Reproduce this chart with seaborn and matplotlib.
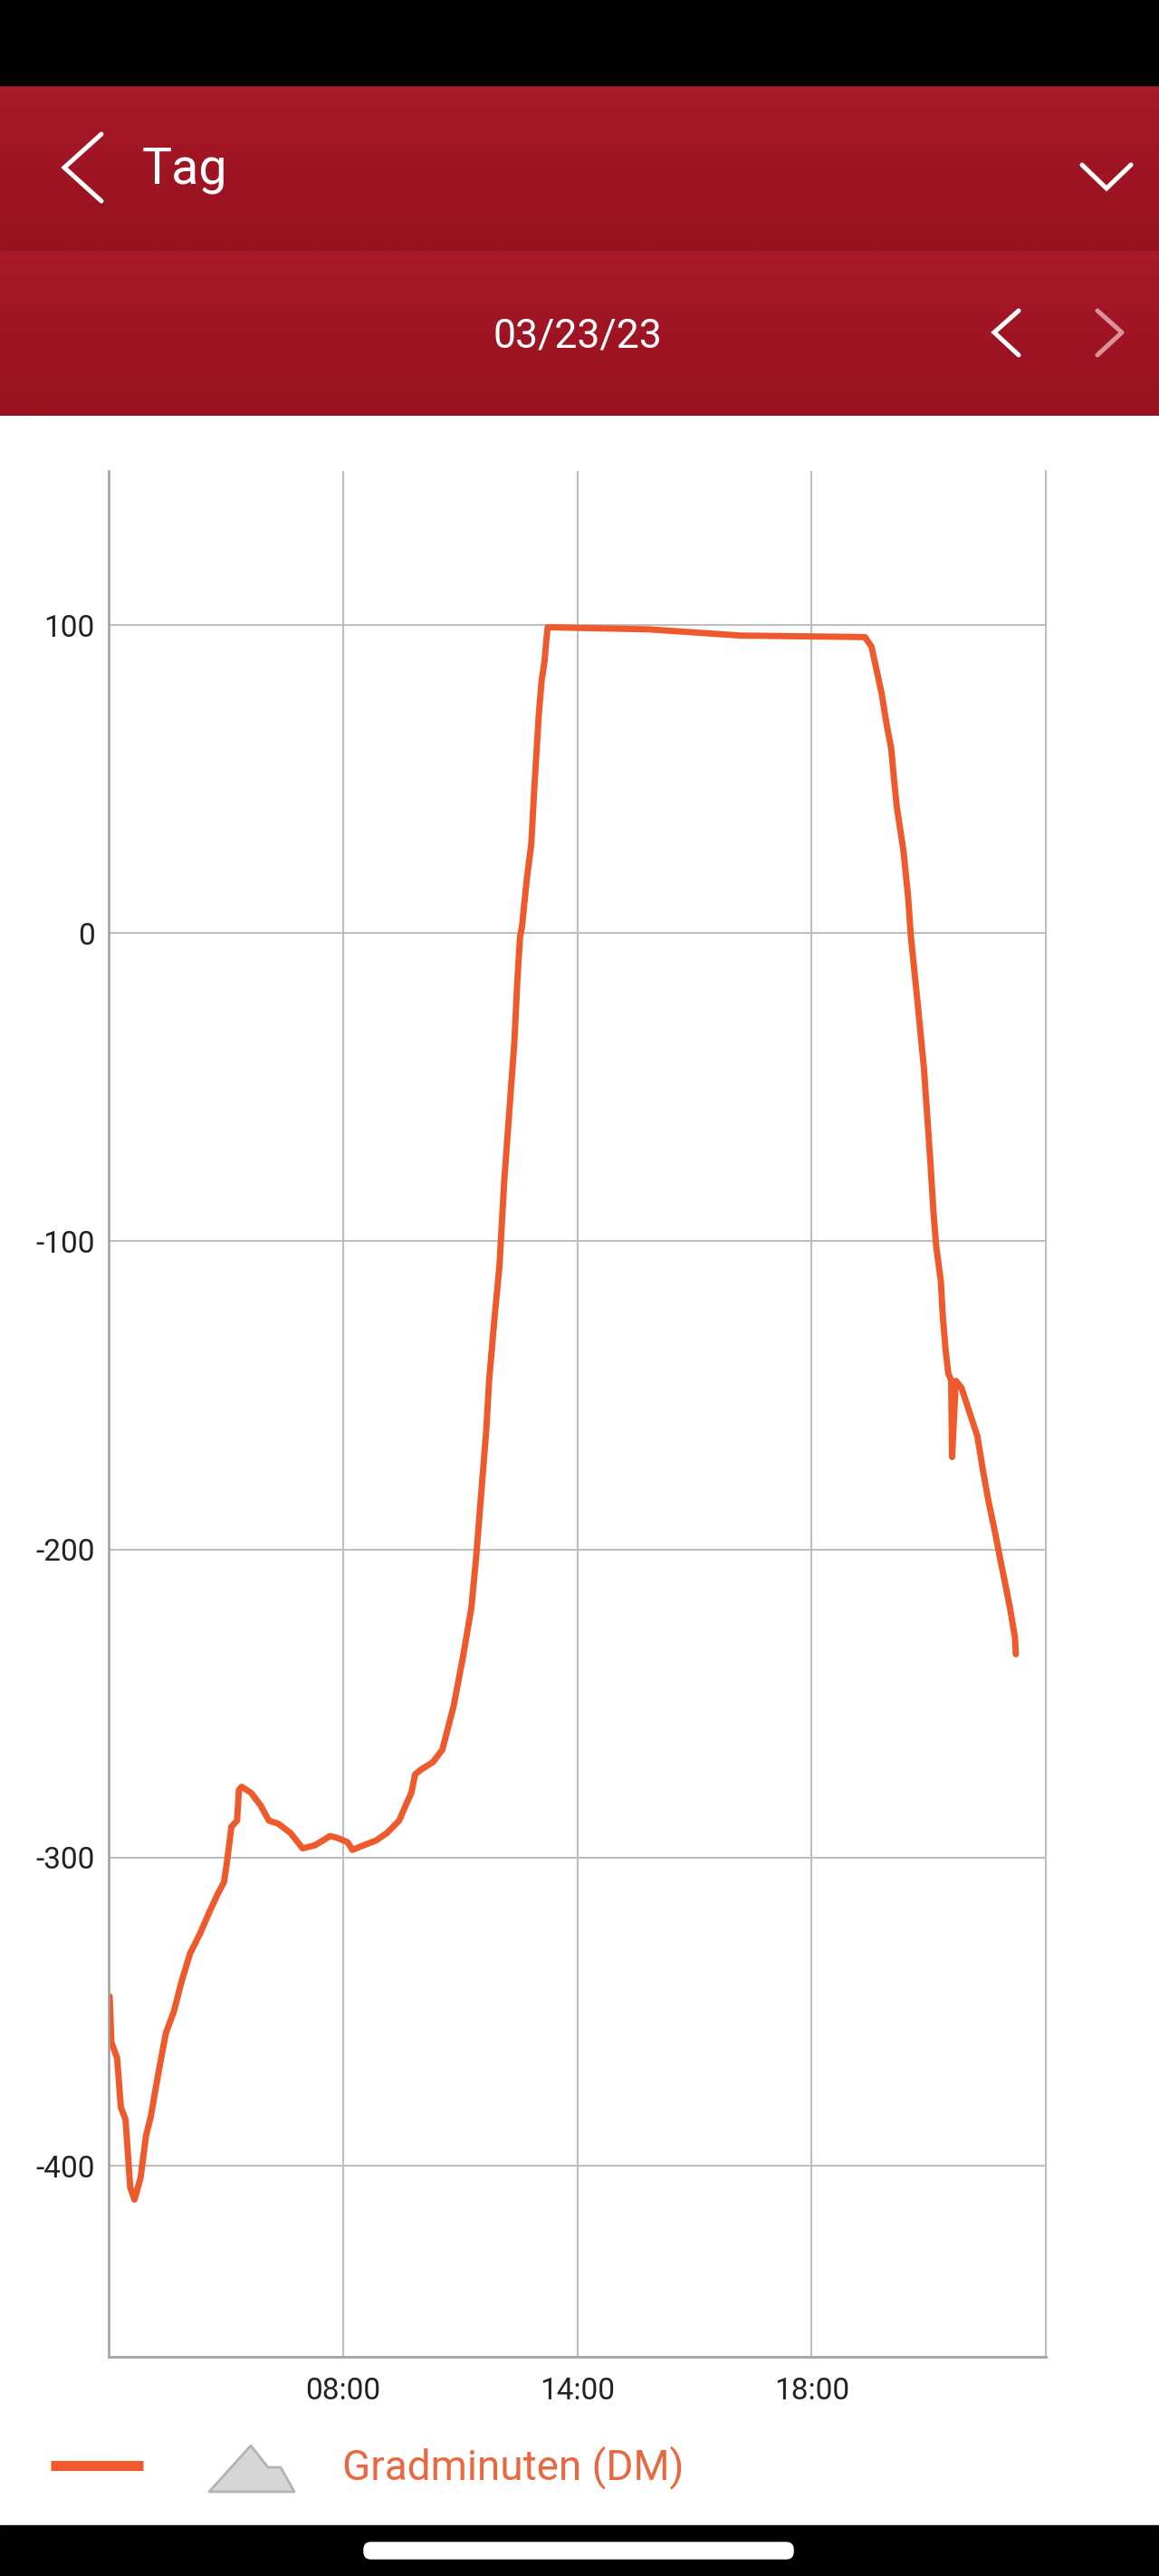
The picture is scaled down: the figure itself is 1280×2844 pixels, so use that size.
import numpy as np
import pandas as pd
import matplotlib
matplotlib.use("Agg")
import matplotlib.pyplot as plt
import seaborn as sns
from matplotlib.patches import Rectangle, Polygon, FancyBboxPatch
from matplotlib.lines import Line2D
from matplotlib.colors import LinearSegmentedColormap

W, H = 1280, 2844

# position along the time axis (0 = left edge, 100 = right edge) and degree minutes
pos = [0.1, 0.3, 0.9, 1.3, 1.8, 2.3, 2.75, 3.4, 4.0, 4.5, 5.3, 6.1, 6.95, 7.8,
       8.7, 9.7, 10.7, 11.6, 12.3, 12.6, 13.1, 13.7, 13.9, 14.2, 15.2, 16.2,
       17.1, 18.1, 19.4, 20.7, 22.0, 23.1, 23.6, 24.3, 25.5, 26.0, 27.2, 28.5,
       29.7, 31.0, 31.7, 32.3, 32.7, 33.3, 34.6, 35.6, 36.2, 36.8, 37.8, 38.7,
       39.2, 39.75, 40.3, 40.6, 41.2, 41.7, 42.2, 42.7, 43.3, 43.6, 43.9, 44.1,
       44.6, 45.1, 45.4, 45.6, 45.9, 46.2, 46.5, 46.7, 46.85, 57.7, 67.4, 80.7,
       81.4, 81.9, 82.5, 83.0, 83.5, 83.8, 84.1, 84.8, 85.3, 85.6, 86.3, 87.0,
       87.7, 88.0, 88.3, 88.8, 89.0, 89.3, 89.6, 89.9, 90.0, 90.4, 91.0, 91.85,
       92.7, 93.3, 93.9, 94.6, 95.1, 95.7, 96.2, 96.7, 96.8]
dm = [-345, -360, -365, -381, -385, -407, -411, -404, -390, -384, -370, -357,
      -350, -340, -331, -325, -318, -312, -308, -302, -290, -288, -278, -277,
      -279, -283, -288, -289, -292, -297, -296, -294, -293, -293.5, -295,
      -297.5, -296, -294.5, -292, -288, -283, -279, -273, -271.5, -269, -265,
      -258, -251, -235, -219, -203, -182, -161, -145, -124, -108, -81, -60,
      -35, -16, -1, 2, 17, 29, 46, 56, 71, 82, 88, 95, 99.3, 98.6, 96.6, 96.1,
      93, 86, 77.5, 68, 60, 50, 41, 27, 12, -1, -22, -44, -75, -90, -101.5,
      -113, -124, -135, -143, -145, -170, -145.3, -147.5, -155.4, -163.3,
      -174.5, -184.6, -194.7, -202.6, -211.6, -219.4, -228.4, -234]

x_ticks = [25, 50, 75]
x_labels = ["08:00", "14:00", "18:00"]
y_ticks = [-400, -300, -200, -100, 0, 100]
title = "Tag"
date_label = "03/23/23"
series_name = "Gradminuten (DM)"

line_color = "#EE5A2B"
grid_color = "#BDBDBD"

sns.set_theme(style="whitegrid")
plt.rcParams["font.family"] = ["Roboto", "DejaVu Sans"]
plt.rcParams["axes.unicode_minus"] = False

fig = plt.figure(figsize=(W / 100, H / 100), dpi=100)
fig.patch.set_facecolor("white")


def fy(py):
    return 1 - py / H


def px_line(xs, ys, **kw):
    fig.add_artist(Line2D([x / W for x in xs], [fy(y) for y in ys],
                          transform=fig.transFigure, **kw))


def gradient_bar(top, bottom, c1, c2):
    a = fig.add_axes([0, fy(bottom), 1, (bottom - top) / H])
    cmap = LinearSegmentedColormap.from_list("bar", [c1, c2])
    a.imshow(np.linspace(0, 1, 64)[:, None], aspect="auto", cmap=cmap,
             extent=[0, 1, 0, 1])
    a.set_axis_off()


# phone chrome
fig.add_artist(Rectangle((0, fy(94)), 1, 94 / H, transform=fig.transFigure,
                         color="black"))
gradient_bar(94, 277, "#A8192A", "#97111F")
gradient_bar(277, 459, "#A8192A", "#97111F")
fig.add_artist(Rectangle((0, 0), 1, (H - 2788) / H, transform=fig.transFigure,
                         color="black"))
fig.add_artist(FancyBboxPatch((402 / W, fy(2825)), 474 / W, 18 / H,
                              boxstyle="round,pad=0,rounding_size=0.006",
                              transform=fig.transFigure, color="white",
                              mutation_aspect=W / H))

chev = dict(color="white", lw=3.6, solid_capstyle="round", solid_joinstyle="miter")
px_line([112, 71, 112], [148, 185, 222], **chev)
px_line([1195, 1222, 1249], [182, 208, 182], **chev)
px_line([1125, 1098, 1125], [343, 367, 392], **chev)
px_line([1212, 1239, 1212], [343, 367, 392], color="#DC9298", lw=3.6,
        solid_capstyle="round")
fig.text(157 / W, fy(188), title, color="white", fontsize=40,
         ha="left", va="center")
fig.text(638 / W, fy(372), date_label, color="white", fontsize=32,
         ha="center", va="center")

# chart
ax = fig.add_axes([120 / W, fy(2602), (1155 - 120) / W, (2602 - 520) / H])
df = pd.DataFrame({"pos": pos, "dm": dm})
sns.lineplot(data=df, x="pos", y="dm", ax=ax, color=line_color, linewidth=5,
             sort=False, estimator=None)
ax.set_xlim(0, 100)
ax.set_ylim(-462, 150)
ax.set_xticks(x_ticks)
ax.set_xticklabels(x_labels)
ax.set_yticks(y_ticks)
ax.set_xlabel("")
ax.set_ylabel("")
ax.set_facecolor("white")
ax.grid(True, color=grid_color, linewidth=1.5)
ax.tick_params(axis="x", labelsize=24, pad=16, length=0, colors="#222222")
ax.tick_params(axis="y", labelsize=24, pad=11, length=0, colors="#222222")
ax.spines["top"].set_visible(False)
ax.spines["left"].set_color("#9E9E9E")
ax.spines["left"].set_linewidth(1.8)
ax.spines["bottom"].set_color("#A8A8A8")
ax.spines["bottom"].set_linewidth(2.2)
ax.spines["right"].set_color(grid_color)
ax.spines["right"].set_linewidth(1.5)

# legend row
px_line([56, 158], [2722, 2722], color=line_color, lw=8, solid_capstyle="butt")
fig.add_artist(Polygon([(231 / W, fy(2751)), (277 / W, fy(2700)),
                        (296 / W, fy(2724)), (310 / W, fy(2724)),
                        (325 / W, fy(2751))], closed=True,
                       transform=fig.transFigure, facecolor="#D6D6D6",
                       edgecolor="#B3B3B3", lw=2, joinstyle="round"))
fig.text(378 / W, fy(2724), series_name, color="#E8683F", fontsize=33,
         ha="left", va="center")

fig.savefig("out.png", dpi=100)
